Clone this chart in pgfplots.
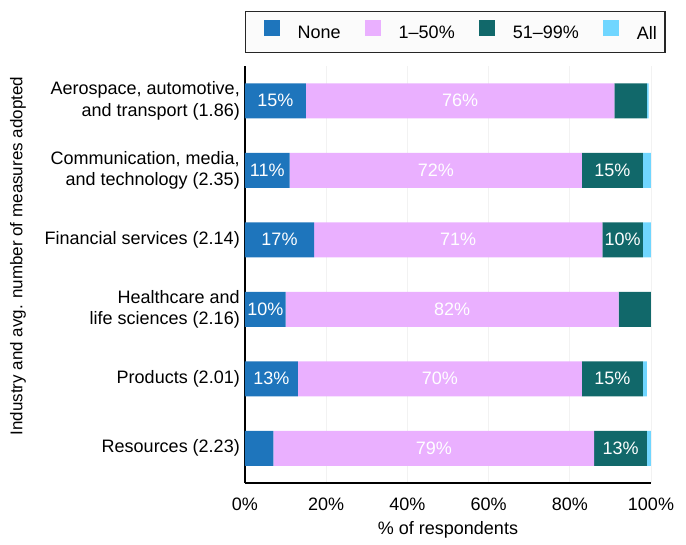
\documentclass[border=0pt]{standalone}
\usepackage{fontspec}
\setmainfont{Liberation Sans}
\usepackage{pgfplots}
\pgfplotsset{compat=1.18}

\definecolor{cnone}{HTML}{1E75BC}
\definecolor{clow}{HTML}{EAB0FF}
\definecolor{chigh}{HTML}{11686A}
\definecolor{call}{HTML}{70D6FF}

% y: 5 = Aerospace (top) ... 0 = Resources (bottom)
\pgfplotstableread{
y none low high all
5 15 76 8  0.4
4 11 72 15 2
3 17 71 10 2
2 10 82 8  0.4
1 13 70 15 1
0 7  79 13 1.4
}\shares

\begin{document}
\fontsize{18}{21.5}\selectfont
\begin{tikzpicture}
\begin{axis}[
    scale only axis,
    width=406pt, height=417pt,
    xbar stacked,
    bar width=35pt,
    xmin=0, xmax=100,
    ymin=-0.5, ymax=5.5,
    xtick={0,20,40,60,80,100},
    xticklabel={\pgfmathprintnumber{\tick}\%},
    /pgf/number format/assume math mode=true,
    ytick={0,1,2,3,4,5},
    yticklabels={
        {Resources (2.23)},
        {Products (2.01)},
        {Healthcare and\\life sciences (2.16)},
        {Financial services (2.14)},
        {Communication, media,\\and technology (2.35)},
        {Aerospace, automotive,\\and transport (1.86)}},
    yticklabel style={align=right, xshift=1pt},
    xticklabel style={yshift=-9pt},
    major tick length=0pt,
    xmajorgrids,
    grid style={gray!10, line width=0.8pt},
    axis x line*=bottom,
    axis y line*=left,
    x axis line style={-, line width=1.4pt},
    y axis line style={-, line width=1.8pt},
    xlabel={\% of respondents},
    xlabel style={at={(axis description cs:0.5,-0.113)}, anchor=center},
    ylabel={Industry and avg. number of measures adopted},
    ylabel style={at={(axis description cs:-0.559,0.544)}, anchor=center,
        font=\fontsize{17}{20}\selectfont},
    legend columns=4,
    legend style={at={(axis description cs:0,1)}, anchor=south west, yshift=13pt,
        draw=black!85, line width=1.4pt, fill=gray!3,
        inner xsep=6pt, inner ysep=8.5pt,
        /tikz/every odd column/.style={column sep=16pt},
        /tikz/every even column/.style={column sep=10pt}},
    legend image code/.code={\path (-12pt,0pt); \fill[#1] (0pt,-2pt) rectangle (16pt,14pt);},
    visualization depends on={rawx \as \rawx},
    nodes near coords={\ifdim\rawx pt<9.5pt\else\pgfmathprintnumber[fixed,precision=0]{\rawx}\%\fi},
    every node near coord/.append style={anchor=center, text=white},
]
\addplot[fill=cnone, draw=none] table[x=none, y=y] {\shares};
\addplot[fill=clow, draw=none] table[x=low, y=y] {\shares};
\addplot[fill=chigh, draw=none] table[x=high, y=y] {\shares};
\addplot[fill=call, draw=none] table[x=all, y=y] {\shares};
\legend{None, 1--50\%, 51--99\%, All}
\end{axis}
\path (current axis.south west) ++(-245pt,-54pt) rectangle ++(686pt,537pt);
\end{tikzpicture}
\end{document}
